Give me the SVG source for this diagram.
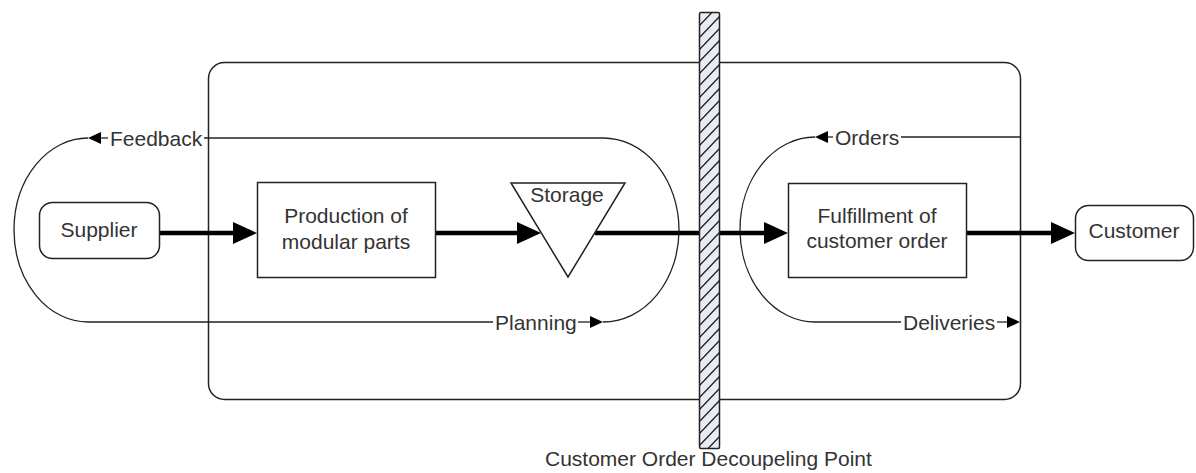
<svg xmlns="http://www.w3.org/2000/svg" width="1196" height="473" viewBox="0 0 1196 473">
  <style>
    .lbl { font-family: "Liberation Sans", Arial, sans-serif; font-size: 21px; fill: #333; }
    .mid { text-anchor: middle; }
    .box { fill: #fff; stroke: #222; stroke-width: 1.5; }
    .thin { fill: none; stroke: #222; stroke-width: 1.3; }
    .thick { fill: none; stroke: #000; stroke-width: 4.5; }
  </style>
  <defs>
    <marker id="bigHead" markerUnits="userSpaceOnUse" markerWidth="24" markerHeight="24" refX="0" refY="12" orient="auto">
      <path d="M0,1 L24,12 L0,23 z" fill="#000"/>
    </marker>
    <marker id="smallHead" markerUnits="userSpaceOnUse" markerWidth="13" markerHeight="12" refX="0" refY="6" orient="auto">
      <path d="M0,0 L13,6 L0,12 z" fill="#000"/>
    </marker>
    <clipPath id="barClip">
      <rect x="699.5" y="12.5" width="20" height="436"/>
    </clipPath>
  </defs>

  <rect width="1196" height="473" fill="#fff"/>

  <!-- company boundary -->
  <rect id="boundary" x="208.5" y="62.5" width="812" height="337" rx="16" fill="none" stroke="#222" stroke-width="1.5"/>

  <g id="connectors">
    <!-- planning / feedback loop -->
    <path class="thin" d="M603 138 H204"/>
    <path class="thin" d="M108 138 H101" marker-end="url(#smallHead)"/>
    <path class="thin" d="M88 138 A74 92 0 0 0 88 322 H493"/>
    <path class="thin" d="M578 322 H590" marker-end="url(#smallHead)"/>
    <path class="thin" d="M603 322 A76 92 0 0 0 603 138"/>
    <text class="lbl" x="110" y="145.5">Feedback</text>
    <text class="lbl" x="495" y="329.5">Planning</text>

    <!-- orders / deliveries loop -->
    <path class="thin" d="M1020 137 H901"/>
    <path class="thin" d="M833 137 H828" marker-end="url(#smallHead)"/>
    <path class="thin" d="M815 137 A75 92.5 0 0 0 815 322 H901"/>
    <path class="thin" d="M997 322 H1007" marker-end="url(#smallHead)"/>
    <text class="lbl" x="835" y="144.5">Orders</text>
    <text class="lbl" x="903" y="329.5">Deliveries</text>

    <!-- material flow -->
    <path class="thick" d="M160 233 H233" marker-end="url(#bigHead)"/>
    <path class="thick" d="M436 233 H517" marker-end="url(#bigHead)"/>
    <path class="thick" d="M595 233 H702"/>
    <path class="thick" d="M717 233 H764" marker-end="url(#bigHead)"/>
    <path class="thick" d="M967 233 H1051" marker-end="url(#bigHead)"/>
  </g>

  <g id="supplier">
    <rect class="box" x="39.5" y="202.5" width="120" height="56" rx="13"/>
    <text class="lbl mid" x="99" y="237">Supplier</text>
  </g>

  <g id="production">
    <rect class="box" x="257.5" y="182.5" width="178" height="95"/>
    <text class="lbl mid" x="346" y="223">Production of</text>
    <text class="lbl mid" x="346" y="249">modular parts</text>
  </g>

  <g id="storage">
    <polygon class="box" points="511,183 625,183 568,277"/>
    <text class="lbl mid" x="567" y="202">Storage</text>
  </g>

  <g id="fulfillment">
    <rect class="box" x="788.5" y="183.5" width="178" height="94"/>
    <text class="lbl mid" x="877" y="223">Fulfillment of</text>
    <text class="lbl mid" x="877" y="248">customer order</text>
  </g>

  <g id="customer">
    <rect class="box" x="1075.5" y="205.5" width="118" height="55" rx="13"/>
    <text class="lbl mid" x="1134" y="238">Customer</text>
  </g>

  <!-- decoupling barrier -->
  <g id="decoupling-point">
    <rect x="699.5" y="12.5" width="20" height="436" rx="1.5" fill="#e8ecf4"/>
    <g clip-path="url(#barClip)" stroke="#222" stroke-width="1.3">
      <path d="M699 26 L720 4 M699 38 L720 16 M699 50 L720 28 M699 62 L720 40 M699 74 L720 52 M699 86 L720 64 M699 98 L720 76 M699 110 L720 88 M699 122 L720 100 M699 134 L720 112 M699 146 L720 124 M699 158 L720 136 M699 170 L720 148 M699 182 L720 160 M699 194 L720 172 M699 206 L720 184 M699 218 L720 196 M699 230 L720 208 M699 242 L720 220 M699 254 L720 232 M699 266 L720 244 M699 278 L720 256 M699 290 L720 268 M699 302 L720 280 M699 314 L720 292 M699 326 L720 304 M699 338 L720 316 M699 350 L720 328 M699 362 L720 340 M699 374 L720 352 M699 386 L720 364 M699 398 L720 376 M699 410 L720 388 M699 422 L720 400 M699 434 L720 412 M699 446 L720 424 M699 458 L720 436 M699 470 L720 448"/>
    </g>
    <rect x="699.5" y="12.5" width="20" height="436" rx="1.5" fill="none" stroke="#222" stroke-width="1.5"/>
    <text class="lbl" x="545" y="466">Customer Order Decoupeling Point</text>
  </g>
</svg>
